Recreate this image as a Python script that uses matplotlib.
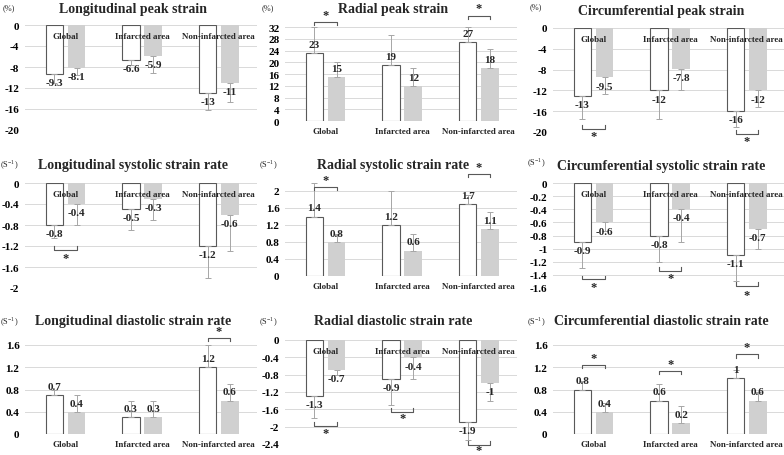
import matplotlib
matplotlib.use("Agg")
import matplotlib.pyplot as plt
from matplotlib.ticker import FuncFormatter

plt.rcParams['font.family'] = ['Liberation Serif', 'DejaVu Serif']
plt.rcParams['mathtext.fontset'] = 'custom'
plt.rcParams['mathtext.rm'] = 'Liberation Serif'

groups = ["Global", "Infarcted area", "Non-infarcted area"]

SR = r"(S$^{\mathregular{-1}}$)"
titles = [
    "Longitudinal peak strain", "Radial peak strain", "Circumferential peak strain",
    "Longitudinal systolic strain rate", "Radial systolic strain rate", "Circumferential systolic strain rate",
    "Longitudinal diastolic strain rate", "Radial diastolic strain rate", "Circumferential diastolic strain rate",
]
units = ["(%)", "(%)", "(%)", SR, SR, SR, SR, SR, SR]

# white = first group, gray = second group
white_vals = [
    [-9.3, -6.6, -13], [23, 19, 27], [-13, -12, -16],
    [-0.8, -0.5, -1.2], [1.4, 1.2, 1.7], [-0.9, -0.8, -1.1],
    [0.7, 0.3, 1.2], [-1.3, -0.9, -1.9], [0.8, 0.6, 1],
]
gray_vals = [
    [-8.1, -5.9, -11], [15, 12, 18], [-9.5, -7.8, -12],
    [-0.4, -0.3, -0.6], [0.8, 0.6, 1.1], [-0.6, -0.4, -0.7],
    [0.4, 0.3, 0.6], [-0.7, -0.4, -1], [0.4, 0.2, 0.6],
]
white_sd = [
    [1.7, 1.1, 3.2], [9, 10.2, 5], [4.5, 5.5, 3],
    [0.25, 0.4, 0.6], [0.8, 0.8, 0.2], [0.4, 0.4, 0.4],
    [0.1, 0.3, 0.4], [0.5, 0.6, 0.4], [0.15, 0.3, 0.15],
]
gray_sd = [
    [1.5, 3.2, 3.7], [5, 6, 6.4], [3.1, 4.1, 3.2],
    [0.4, 0.4, 0.7], [0.2, 0.4, 0.4], [0.13, 0.5, 0.3],
    [0.3, 0.3, 0.3], [0.1, 0.5, 0.4], [0.15, 0.3, 0.15],
]
ticks = [
    [0, -4, -8, -12, -16, -20], [0, 4, 8, 12, 16, 20, 24, 28, 32], [0, -4, -8, -12, -16, -20],
    [0, -0.4, -0.8, -1.2, -1.6, -2], [0, 0.4, 0.8, 1.2, 1.6, 2],
    [0, -0.2, -0.4, -0.6, -0.8, -1, -1.2, -1.4, -1.6],
    [0, 0.4, 0.8, 1.2, 1.6], [0, -0.4, -0.8, -1.2, -1.6, -2, -2.4], [0, 0.4, 0.8, 1.2, 1.6],
]
# significance marks: (group index, bracket y, star y)
sig = [
    [], [(0, 33.7, 36.2), (2, 35.8, 38.3)], [(0, -19.4, -20.8), (2, -20.3, -21.7)],
    [(0, -1.27, -1.42)], [(0, 2.09, 2.25), (2, 2.39, 2.56)],
    [(0, -1.47, -1.59), (1, -1.34, -1.45), (2, -1.57, -1.70)],
    [(2, 1.73, 1.85)], [(0, -1.98, -2.14), (1, -1.66, -1.81), (2, -2.42, -2.53)],
    [(0, 1.24, 1.37), (1, 1.13, 1.26), (2, 1.43, 1.56)],
]

W, H = 784, 456
fig = plt.figure(figsize=(W / 100, H / 100), dpi=100)

col_left = [25, 285, 553]
ax_w = 232
# (top px, bottom px) of the gridline range
rows_px = [(26, 131), (28, 122), (29, 133),
           (184, 289), (192, 277), (184, 289),
           (346, 435), (341, 445), (346, 435)]
title_y = [9, 9, 11, 166, 165, 167, 321, 322, 322]
unit_y = [8, 8, 7, 165, 165, 163, 322, 322, 322]
unit_x = [9, 268, 536]

edge = "#595959"
fill_gray = "#d0d0d0"
err_c = "#a6a6a6"
off = 0.145
bw = 0.23

for k in range(9):
    c = k % 3
    top, bot = rows_px[k]
    ax = fig.add_axes([col_left[c] / W, 1 - bot / H, ax_w / W, (bot - top) / H])
    tk = ticks[k]
    ax.set_ylim(min(tk), max(tk))
    ax.set_xlim(-0.53, 2.5)
    ax.set_yticks(tk)
    ax.yaxis.set_major_formatter(FuncFormatter(lambda v, p: f"{v:g}"))
    ax.set_xticks([])
    ax.tick_params(axis='y', length=0, labelsize=8, pad=4)
    for lab in ax.get_yticklabels():
        lab.set_fontweight('bold')
    for s in ax.spines.values():
        s.set_visible(False)
    ax.grid(axis='y', color="#d9d9d9", lw=0.7)
    ax.set_axisbelow(True)

    neg = max(tk) == 0
    xs = [0, 1, 2]
    xw = [x - off for x in xs]
    xg = [x + off for x in xs]
    wv, gv = white_vals[k], gray_vals[k]
    ax.bar(xw, wv, bw, color="white", edgecolor=edge, linewidth=0.8, zorder=2)
    ax.bar(xg, gv, bw, color=fill_gray, edgecolor="none", zorder=2)
    for xx, vv, sd in [(xw, wv, white_sd[k]), (xg, gv, gray_sd[k])]:
        if neg:
            yerr = [sd, [0] * 3]
        else:
            yerr = [[0] * 3, sd]
        ax.errorbar(xx, vv, yerr=yerr, fmt='none', ecolor=err_c, elinewidth=0.7,
                    capsize=2, capthick=0.7, zorder=3, clip_on=False)
        for x, v in zip(xx, vv):
            ax.annotate(f"{v:g}", (x, v), xytext=(0, -3 if neg else 3),
                        textcoords='offset points', ha='center',
                        va='top' if neg else 'bottom', fontsize=8,
                        fontweight='bold', color="#262626", zorder=5)
    for i, g in enumerate(groups):
        ax.annotate(g, (i, 0), xytext=(0, -11 if neg else -10),
                    textcoords='offset pixels', ha='center', va='center',
                    fontsize=6.5, fontweight='bold', color="#262626", zorder=6,
                    annotation_clip=False)
    for gi, yl, ys in sig[k]:
        x0, x1 = gi - off, gi + off
        span = max(tk) - min(tk)
        dt = 0.035 * span * (1 if neg else -1)
        ax.plot([x0, x0, x1, x1], [yl + dt, yl, yl, yl + dt], color=edge,
                lw=0.8, clip_on=False, zorder=4)
        ax.text(gi, ys, "*", ha='center', va='center', fontsize=9,
                fontweight='bold', color="#262626", clip_on=False)

    fig.text((col_left[c] + 108) / W, 1 - title_y[k] / H, titles[k], ha='center',
             va='center', fontsize=10, fontweight='bold', color="#262626")
    fig.text(unit_x[c] / W, 1 - unit_y[k] / H, units[k], ha='center', va='center',
             fontsize=6, color="#262626")

fig.savefig("out.png", dpi=100, facecolor="white")
